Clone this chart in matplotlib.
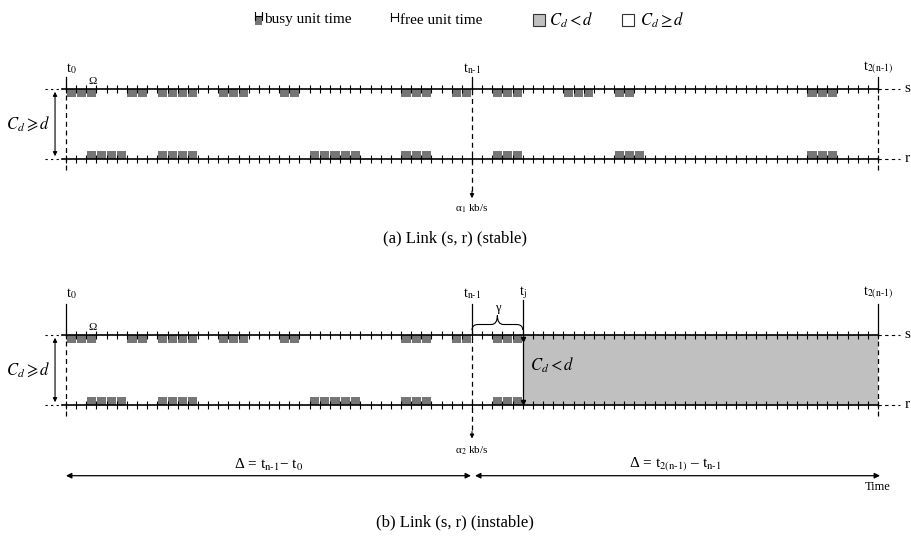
import matplotlib
matplotlib.use("Agg")
import matplotlib.pyplot as plt
from matplotlib.patches import Rectangle, PathPatch
from matplotlib.path import Path
import numpy as np

plt.rcParams["font.family"] = ["Liberation Serif", "DejaVu Serif"]
plt.rcParams["mathtext.fontset"] = "stix"

# time axis in unit times: t0 = 0, t(n-1) = 40, t2(n-1) = 80
n_total = 80
t_half = 40
t_j = 45
s_busy = [0, 1, 2, 6, 7, 9, 10, 11, 12, 15, 16, 17, 21, 22, 33, 34, 35, 38, 39,
          42, 43, 44, 49, 50, 51, 54, 55, 73, 74, 75]
r_busy = [2, 3, 4, 5, 9, 10, 11, 12, 24, 25, 26, 27, 28, 33, 34, 35, 42, 43, 44,
          54, 55, 56, 73, 74, 75]
marks = [0, t_half, n_total]
mark_labels = [r"t$_\mathrm{0}$", r"t$_\mathrm{n\text{-}1}$", r"t$_\mathrm{2(n\text{-}1)}$"]

BUSY = "#767676"
FILL = "#c0c0c0"
W, H = 911, 543
PX = 10.15  # pixels per unit time
X0 = 66

fig = plt.figure(figsize=(W / 100, H / 100), dpi=100)


def px_axes(top, bottom, s_px, r_px):
    ax = fig.add_axes([0, 1 - bottom / H, 1, (bottom - top) / H])
    ax.set_xlim(-X0 / PX, (W - X0) / PX)
    k = r_px - s_px
    ax.set_ylim(-(bottom - r_px) / k, 1 + (s_px - top) / k)
    ax.axis("off")
    return ax


def draw_link(ax, s_units, r_units, label_y, solid_top):
    units = np.arange(0, n_total + 1)
    for y in (0, 1):
        ax.plot([-0.4, n_total], [y, y], color="k", lw=1.2, zorder=3)
        ax.plot([n_total, 82.2], [y, y], color="k", lw=0.8, ls=(0, (3, 3)), zorder=3)
        ax.plot([-2.1, -0.4], [y, y], color="k", lw=0.8, ls=(0, (2, 3)), zorder=3)
        ax.vlines(units, y - 0.055, y + 0.055, color="k", lw=0.8, zorder=3)
    ax.text(82.6, 1, "s", fontsize=11, va="center", ha="left")
    ax.text(82.6, 0, "r", fontsize=11, va="center", ha="left")
    ax.bar(np.array(s_units) + 0.05, -0.12, width=0.9, bottom=1, align="edge",
           color=BUSY, lw=0, zorder=2)
    ax.bar(np.array(r_units) + 0.05, 0.12, width=0.9, bottom=0, align="edge",
           color=BUSY, lw=0, zorder=2)
    # C_d >= d on the left
    ax.annotate("", xy=(-1.08, 1), xytext=(-1.08, 0),
                arrowprops=dict(arrowstyle="<|-|>", lw=0.8, color="k", mutation_scale=6))
    ax.text(-1.5, 0.5, r"$C_d \geqslant d$", fontsize=12, ha="right", va="center")
    ax.text(2.6, 1.04, "Ω", fontsize=8, ha="center", va="bottom")
    for m, lab in zip(marks, mark_labels):
        ax.plot([m, m], [1, solid_top], color="k", lw=0.9, zorder=3)
        ax.text(m, label_y, lab, fontsize=10, ha="left" if m == 0 else "center",
                va="bottom")
        if m != t_half:
            ax.plot([m, m], [-0.16, 1], color="k", lw=0.9, ls=(0, (4, 3)), zorder=3)


# panel (a): stable link
ax_a = px_axes(40, 215, 89, 159)
draw_link(ax_a, s_busy, r_busy, 1.18, 1.17)
ax_a.plot([t_half, t_half], [-0.45, 1], color="k", lw=0.9, ls=(0, (4, 3)), zorder=3)
ax_a.annotate("", xy=(t_half, -0.6), xytext=(t_half, -0.42),
              arrowprops=dict(arrowstyle="-|>", lw=0.8, color="k", mutation_scale=6))
ax_a.text(t_half, -0.62, r"α$_1$ kb/s", fontsize=8, ha="center", va="top")

# panel (b): instable link, capacity drops at t_j
ax_b = px_axes(270, 500, 335, 405)
s_b = [u for u in s_busy if u < t_j]
r_b = [u for u in r_busy if u < t_j]
draw_link(ax_b, s_b, r_b, 1.48, 1.45)
ax_b.fill_between([t_j, n_total], 0, 1, color=FILL, lw=0, zorder=1)
ax_b.plot([t_j, t_j], [0, 1.5], color="k", lw=0.9, zorder=3)
ax_b.text(t_j, 1.48, r"t$_\mathrm{j}$", fontsize=10, ha="center", va="bottom")
ax_b.plot([t_j], [0.95], marker="v", color="k", ms=3, zorder=4)
ax_b.plot([t_j], [0.04], marker="v", color="k", ms=3, zorder=4)
ax_b.text(45.7, 0.57, r"$C_d < d$", fontsize=12, ha="left", va="center")
ax_b.plot([t_half, t_half], [-0.36, 1], color="k", lw=0.9, ls=(0, (4, 3)), zorder=3)
ax_b.annotate("", xy=(t_half, -0.52), xytext=(t_half, -0.34),
              arrowprops=dict(arrowstyle="-|>", lw=0.8, color="k", mutation_scale=6))
ax_b.text(t_half, -0.56, r"α$_2$ kb/s", fontsize=8, ha="center", va="top")

# gamma brace between t(n-1) and t_j
x0, x1 = t_half, t_j
xm = (x0 + x1) / 2
yb, ym, yt = 1.07, 1.15, 1.28
verts = [(x0, yb), (x0, ym), (x0 + 0.6, ym), (xm - 0.6, ym), (xm, ym), (xm, yt),
         (xm, ym), (xm + 0.6, ym), (x1 - 0.6, ym), (x1, ym), (x1, yb)]
codes = [Path.MOVETO, Path.CURVE3, Path.CURVE3, Path.LINETO, Path.CURVE3, Path.CURVE3,
         Path.CURVE3, Path.CURVE3, Path.LINETO, Path.CURVE3, Path.CURVE3]
ax_b.add_patch(PathPatch(Path(verts, codes), fc="none", ec="k", lw=0.8, zorder=3))
ax_b.text(xm, 1.3, "γ", fontsize=9, ha="center", va="bottom")

# interval arrows
ax_b.annotate("", xy=(0, -1.01), xytext=(t_half - 0.1, -1.01),
              arrowprops=dict(arrowstyle="<|-|>", lw=0.9, color="k", mutation_scale=8,
                              shrinkA=0, shrinkB=0))
ax_b.annotate("", xy=(t_half + 0.3, -1.01), xytext=(n_total + 0.2, -1.01),
              arrowprops=dict(arrowstyle="<|-|>", lw=0.9, color="k", mutation_scale=8,
                              shrinkA=0, shrinkB=0))
ax_b.text(t_half / 2, -0.97, r"Δ = t$_\mathrm{n\text{-}1}$− t$_\mathrm{0}$", fontsize=11,
          ha="center", va="bottom")
ax_b.text((t_half + n_total) / 2, -0.97,
          r"Δ = t$_\mathrm{2(n\text{-}1)}$ – t$_\mathrm{n\text{-}1}$", fontsize=11,
          ha="center", va="bottom")
ax_b.text(n_total, -1.08, "Time", fontsize=9, ha="center", va="top")

# legend and captions, placed in pixel space
lay = fig.add_axes([0, 0, 1, 1])
lay.set_xlim(0, W)
lay.set_ylim(H, 0)
lay.axis("off")
lay.add_patch(Rectangle((255, 16), 7, 9, fc=BUSY, lw=0))
lay.plot([255, 255, 255, 262, 262, 262], [12, 20, 16, 16, 12, 20], color="k", lw=0.8)
lay.text(264, 20, "busy unit time", fontsize=11, va="center", ha="left")
lay.plot([391, 391], [13, 21], color="k", lw=0.8)
lay.plot([398, 398], [13, 21], color="k", lw=0.8)
lay.plot([391, 398], [17, 17], color="k", lw=0.8)
lay.text(400, 20, "free unit time", fontsize=11, va="center", ha="left")
lay.add_patch(Rectangle((533, 14), 12, 12, fc=FILL, ec="#333333", lw=0.8))
lay.text(549, 20, r"$C_d < d$", fontsize=12, va="center", ha="left")
lay.add_patch(Rectangle((622, 14), 12, 12, fc="white", ec="#333333", lw=0.8))
lay.text(640, 20, r"$C_d \geq d$", fontsize=12, va="center", ha="left")
lay.text(455, 238, "(a) Link (s, r) (stable)", fontsize=12, ha="center", va="center")
lay.text(455, 522, "(b) Link (s, r) (instable)", fontsize=12, ha="center", va="center")

fig.savefig("out.png", dpi=100)
